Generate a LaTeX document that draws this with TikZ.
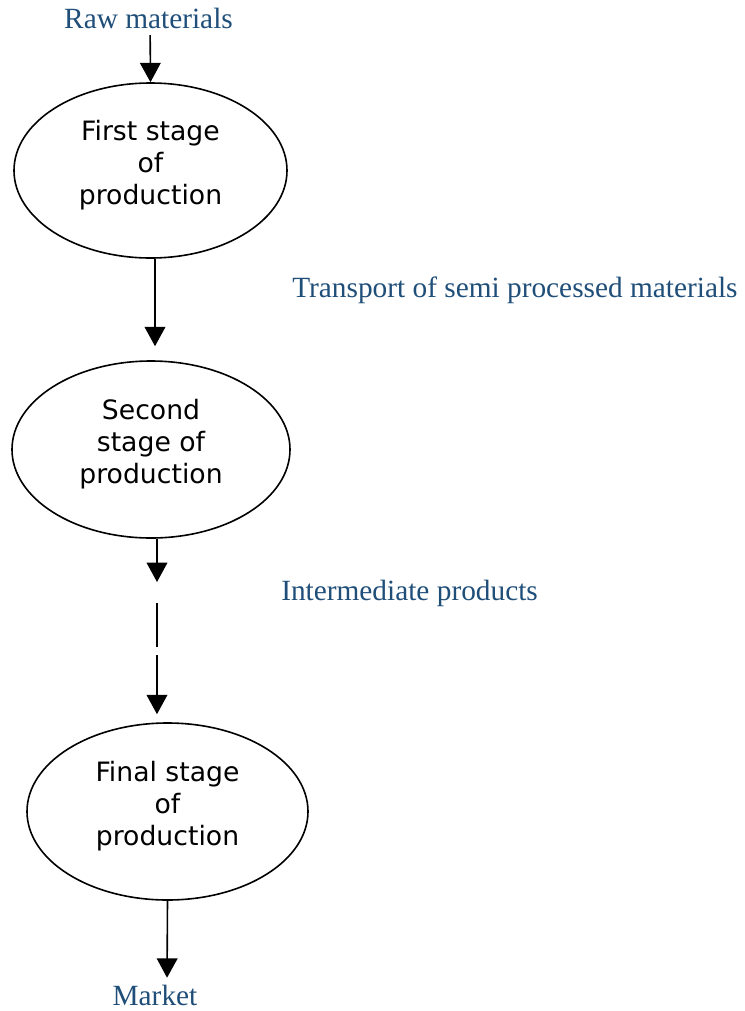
\documentclass[tikz,border=0pt]{standalone}
\usepackage{fontspec}
\setmainfont{Liberation Serif}
\newfontfamily\stagefont{DejaVu Sans}
\usetikzlibrary{shapes.geometric,arrows.meta}
\definecolor{labelblue}{RGB}{31,78,121}
\newcommand{\lowpad}{\rule[-12pt]{0pt}{0pt}}

\begin{document}
\begin{tikzpicture}[x=0.75pt,y=-0.75pt,
	stage/.style={ellipse,draw,line width=1.2pt,inner sep=0pt,align=center,font=\stagefont\fontsize{20}{24}\selectfont},
	tag/.style={text=labelblue,inner sep=0pt,font=\fontsize{22}{26}\selectfont},
	flow/.style={line width=1.2pt,-{Triangle[width=15.5pt,length=14.5pt]}}]

	\useasboundingbox (0,0) rectangle (744,1011);

	\node[tag,anchor=base] (raw) at (148.5,28) {Raw materials};
	\node[stage,minimum width=204.75pt,minimum height=131.25pt] (first) at (150.5,170.5) {First stage\\of\\production\lowpad};
	\node[tag,anchor=base west] (transport) at (292,297) {Transport of semi processed materials};
	\node[stage,minimum width=208.5pt,minimum height=132.75pt] (second) at (151,449.5) {Second\\stage of\\production\lowpad};
	\node[tag,anchor=base west] (inter) at (281,600.5) {Intermediate products};
	\node[stage,minimum width=210.75pt,minimum height=132.75pt] (final) at (167.5,811.5) {Final stage\\of\\production\lowpad};
	\node[tag,anchor=base] (market) at (155,1005) {Market};

	\coordinate (cut1) at (157,582);
	\coordinate (cut2) at (157,603);
	\coordinate (cut3) at (157,647);
	\coordinate (cut4) at (157,655);

	\draw[flow,shorten <=5pt] ([xshift=1.2pt]raw.south) -- (first.north);
	\draw[flow,shorten >=10.5pt] ([xshift=3.4pt]first.south) -- ([xshift=3pt]second.north);
	\draw[flow] ([xshift=4.5pt]second.south) -- (cut1);
	\draw[line width=1.2pt] (cut2) -- (cut3);
	\draw[flow,shorten >=6pt] (cut4) -- ([xshift=-7.9pt]final.north);
	\draw[flow,shorten >=5pt] (final.south) -- ([xshift=9pt]market.north);

\end{tikzpicture}
\end{document}
